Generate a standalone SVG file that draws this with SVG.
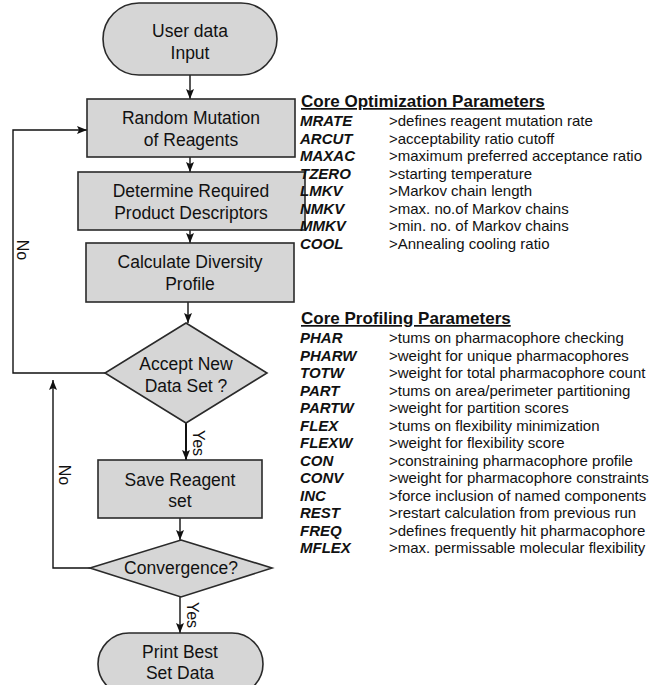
<svg xmlns="http://www.w3.org/2000/svg" width="652" height="685" viewBox="0 0 652 685">
<defs>
<marker id="ah" viewBox="0 0 10 10" refX="10" refY="5" markerWidth="10" markerHeight="10" markerUnits="userSpaceOnUse" orient="auto">
<path d="M0,1 L10,5 L0,9 L2,5 Z" fill="#111"/>
</marker>
<style>
.shape{fill:#d6d6d6;stroke:#2a2a2a;stroke-width:1.6}
.nt{font-family:"Liberation Sans",Arial,sans-serif;font-size:17.5px;fill:#111;text-anchor:middle}
.lbl{font-family:"Liberation Sans",Arial,sans-serif;font-size:16px;fill:#111;text-anchor:middle}
.ln{fill:none;stroke:#111;stroke-width:1.4}
.hd{font-family:"Liberation Sans",Arial,sans-serif;font-size:17px;font-weight:bold;fill:#111;text-decoration:underline}
.pn{font-family:"Liberation Sans",Arial,sans-serif;font-size:15px;font-weight:bold;font-style:italic;fill:#111}
.pd{font-family:"Liberation Sans",Arial,sans-serif;font-size:15px;fill:#111}
</style>
</defs>
<rect width="652" height="685" fill="#ffffff"/>

<g id="connectors">
<line class="ln" x1="190" y1="75" x2="190" y2="99" marker-end="url(#ah)"/>
<line class="ln" x1="190" y1="157" x2="190" y2="172" marker-end="url(#ah)"/>
<line class="ln" x1="190" y1="230" x2="190" y2="243" marker-end="url(#ah)"/>
<line class="ln" x1="188" y1="302" x2="188" y2="323" marker-end="url(#ah)"/>
<polyline class="ln" points="105,373 13,373 13,130 87,130" marker-end="url(#ah)"/>
<text class="lbl" transform="translate(22,250) rotate(90)" dy="5">No</text>
<line class="ln" x1="186" y1="423" x2="186" y2="460" marker-end="url(#ah)" style="stroke-width:2"/>
<text class="lbl" transform="translate(198,443) rotate(90)" dy="5">Yes</text>
<line class="ln" x1="180" y1="518" x2="180" y2="540" marker-end="url(#ah)"/>
<polyline class="ln" points="90,568 53,568 53,380" marker-end="url(#ah)"/>
<text class="lbl" transform="translate(64,475) rotate(90)" dy="5">No</text>
<line class="ln" x1="180" y1="597" x2="180" y2="633" marker-end="url(#ah)"/>
<text class="lbl" transform="translate(192,615) rotate(90)" dy="5">Yes</text>
</g>

<g id="n-input">
<rect class="shape" x="103" y="3" width="174" height="72" rx="36" ry="36"/>
<text class="nt" x="190" y="37">User data</text>
<text class="nt" x="190" y="59">Input</text>
</g>
<g id="n-mutation">
<rect class="shape" x="87" y="99" width="208" height="58"/>
<text class="nt" x="191" y="124">Random Mutation</text>
<text class="nt" x="191" y="146">of Reagents</text>
</g>
<g id="n-descriptors">
<rect class="shape" x="78" y="172" width="227" height="58"/>
<text class="nt" x="191" y="197">Determine Required</text>
<text class="nt" x="191" y="219">Product Descriptors</text>
</g>
<g id="n-diversity">
<rect class="shape" x="86" y="243" width="208" height="59"/>
<text class="nt" x="190" y="268">Calculate Diversity</text>
<text class="nt" x="190" y="290">Profile</text>
</g>
<g id="n-accept">
<polygon class="shape" points="186,323 267,373 186,423 105,373"/>
<text class="nt" x="186" y="370">Accept New</text>
<text class="nt" x="186" y="392">Data Set ?</text>
</g>
<g id="n-save">
<rect class="shape" x="98" y="460" width="164" height="58"/>
<text class="nt" x="180" y="486">Save Reagent</text>
<text class="nt" x="180" y="507">set</text>
</g>
<g id="n-convergence">
<polygon class="shape" points="181,540 272,568 181,597 90,568"/>
<text class="nt" x="181" y="574">Convergence?</text>
</g>
<g id="n-print">
<rect class="shape" x="98" y="633" width="165" height="62" rx="31" ry="31"/>
<text class="nt" x="180" y="658">Print Best</text>
<text class="nt" x="180" y="679">Set Data</text>
</g>

<g id="opt-params">
<text class="hd" x="301" y="107">Core Optimization Parameters</text>
<text class="pn" x="300" y="126">MRATE</text><text class="pd" x="389" y="126">&gt;defines reagent mutation rate</text>
<text class="pn" x="300" y="144">ARCUT</text><text class="pd" x="389" y="144">&gt;acceptability ratio cutoff</text>
<text class="pn" x="300" y="161">MAXAC</text><text class="pd" x="389" y="161">&gt;maximum preferred acceptance ratio</text>
<text class="pn" x="300" y="179">TZERO</text><text class="pd" x="389" y="179">&gt;starting temperature</text>
<text class="pn" x="300" y="196">LMKV</text><text class="pd" x="389" y="196">&gt;Markov chain length</text>
<text class="pn" x="300" y="214">NMKV</text><text class="pd" x="389" y="214">&gt;max. no.of Markov chains</text>
<text class="pn" x="300" y="231">MMKV</text><text class="pd" x="389" y="231">&gt;min. no. of Markov chains</text>
<text class="pn" x="300" y="249">COOL</text><text class="pd" x="389" y="249">&gt;Annealing cooling ratio</text>
</g>
<g id="prof-params">
<text class="hd" x="301" y="324">Core Profiling Parameters</text>
<text class="pn" x="300" y="343">PHAR</text><text class="pd" x="389" y="343">&gt;tums on pharmacophore checking</text>
<text class="pn" x="300" y="361">PHARW</text><text class="pd" x="389" y="361">&gt;weight for unique pharmacophores</text>
<text class="pn" x="300" y="378">TOTW</text><text class="pd" x="389" y="378">&gt;weight for total pharmacophore count</text>
<text class="pn" x="300" y="396">PART</text><text class="pd" x="389" y="396">&gt;tums on area/perimeter partitioning</text>
<text class="pn" x="300" y="413">PARTW</text><text class="pd" x="389" y="413">&gt;weight for partition scores</text>
<text class="pn" x="300" y="431">FLEX</text><text class="pd" x="389" y="431">&gt;tums on flexibility minimization</text>
<text class="pn" x="300" y="448">FLEXW</text><text class="pd" x="389" y="448">&gt;weight for flexibility score</text>
<text class="pn" x="300" y="466">CON</text><text class="pd" x="389" y="466">&gt;constraining pharmacophore profile</text>
<text class="pn" x="300" y="483">CONV</text><text class="pd" x="389" y="483">&gt;weight for pharmacophore constraints</text>
<text class="pn" x="300" y="501">INC</text><text class="pd" x="389" y="501">&gt;force inclusion of named components</text>
<text class="pn" x="300" y="518">REST</text><text class="pd" x="389" y="518">&gt;restart calculation from previous run</text>
<text class="pn" x="300" y="536">FREQ</text><text class="pd" x="389" y="536">&gt;defines frequently hit pharmacophore</text>
<text class="pn" x="300" y="553">MFLEX</text><text class="pd" x="389" y="553">&gt;max. permissable molecular flexibility</text>
</g>
</svg>
